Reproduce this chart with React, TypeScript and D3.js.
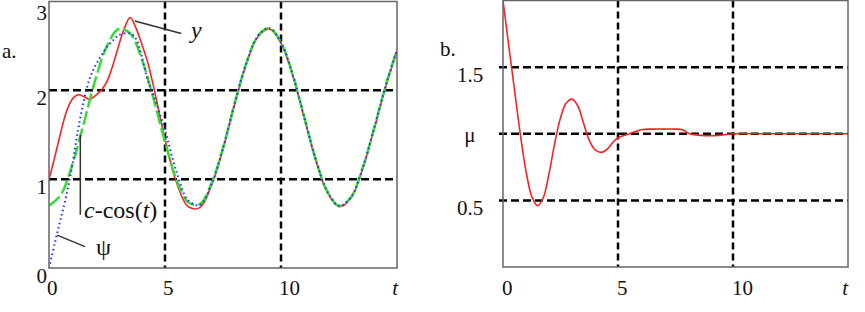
import React, { useRef, useEffect } from "react";
import * as d3 from "d3";

// panel a: time samples and curves
const tRed = [0, 0.25, 0.5, 0.75, 1, 1.25, 1.5, 1.75, 2, 2.25, 2.5, 2.75, 3, 3.25, 3.5, 3.75, 4, 4.25, 4.5, 5, 5.5, 6, 6.5, 7, 7.5, 8, 8.5, 9, 9.5, 10, 10.5, 11, 11.5, 12, 12.5, 13, 13.5, 14, 14.5, 15];
const yRed = [1.0, 1.25, 1.52, 1.76, 1.9, 1.95, 1.93, 1.9, 1.94, 2.0, 2.1, 2.28, 2.5, 2.7, 2.82, 2.7, 2.52, 2.32, 2.05, 1.45, 0.96, 0.69, 0.68, 0.93, 1.34, 1.84, 2.29, 2.6, 2.69, 2.53, 2.17, 1.69, 1.21, 0.85, 0.69, 0.78, 1.1, 1.55, 2.03, 2.44];

const tGreen = [0, 0.5, 1, 1.5, 2, 2.5, 3, 3.5, 4, 4.5, 5, 5.5, 6, 6.5, 7, 7.5, 8, 8.5, 9, 9.5, 10, 10.5, 11, 11.5, 12, 12.5, 13, 13.5, 14, 14.5, 15];
const yGreen = [0.7, 0.82, 1.16, 1.63, 2.12, 2.5, 2.69, 2.64, 2.35, 1.91, 1.42, 0.99, 0.74, 0.72, 0.95, 1.35, 1.85, 2.3, 2.61, 2.7, 2.54, 2.18, 1.7, 1.22, 0.86, 0.7, 0.79, 1.11, 1.56, 2.04, 2.46];

const tBlue = [0, 0.25, 0.5, 0.75, 1, 1.25, 1.5, 1.75, 2, 2.25, 2.5, 2.75, 3, 3.5, 3.75, 4, 4.25, 4.5, 5, 5.5, 6, 6.5, 7, 7.5, 8, 8.5, 9, 9.5, 10, 10.5, 11, 11.5, 12, 12.5, 13, 13.5, 14, 14.5, 15];
const yBlue = [0, 0.28, 0.55, 0.82, 1.15, 1.55, 1.88, 2.13, 2.28, 2.39, 2.49, 2.56, 2.62, 2.64, 2.58, 2.38, 2.12, 1.95, 1.55, 1.08, 0.76, 0.71, 0.94, 1.35, 1.85, 2.3, 2.61, 2.7, 2.54, 2.18, 1.7, 1.22, 0.86, 0.7, 0.79, 1.11, 1.56, 2.04, 2.46];

// panel b
const tMu = [0, 0.25, 0.5, 0.75, 1, 1.25, 1.5, 1.75, 2, 2.25, 2.5, 2.75, 3, 3.25, 3.5, 3.75, 4, 4.25, 4.5, 4.75, 5, 5.5, 6, 6.5, 7, 7.5, 7.8, 8.1, 8.5, 9, 9.5, 10, 11, 12, 13, 14, 15];
const muValues = [2.0, 1.66, 1.33, 1.0, 0.72, 0.53, 0.46, 0.52, 0.7, 0.93, 1.12, 1.23, 1.26, 1.21, 1.08, 0.95, 0.88, 0.86, 0.88, 0.93, 0.97, 1.0, 1.03, 1.035, 1.035, 1.035, 1.03, 1.0, 0.99, 0.985, 0.99, 1.0, 1.0, 1.0, 1.0, 1.0, 1.0];

const xTicks = [0, 5, 10];
const xGrid = [5, 10];
const yTicksA = [0, 1, 2, 3];
const yGridA = [1, 2];
const yGridB = [0.5, 1, 1.5];
const yLabelsB = [
  { v: 1.5, text: "1.5" },
  { v: 1, text: "μ" },
  { v: 0.5, text: "0.5" },
];

const FONT = "Liberation Serif, DejaVu Serif, serif";

const App: React.FC = () => {
  const svgRef = useRef<SVGSVGElement | null>(null);

  useEffect(() => {
    const svg = d3.select(svgRef.current);
    svg.selectAll("*").remove();

    const drawPanel = (opts: {
      id: string;
      x0: number;
      x1: number;
      yTop: number;
      yBot: number;
      yMax: number;
    }) => {
      const x = d3.scaleLinear().domain([0, 15]).range([opts.x0, opts.x1]);
      const y = d3.scaleLinear().domain([0, opts.yMax]).range([opts.yBot, opts.yTop]);
      svg
        .append("clipPath")
        .attr("id", opts.id)
        .append("rect")
        .attr("x", opts.x0)
        .attr("y", opts.yTop)
        .attr("width", opts.x1 - opts.x0)
        .attr("height", opts.yBot - opts.yTop);
      return { x, y };
    };

    const grid = (
      x: d3.ScaleLinear<number, number>,
      y: d3.ScaleLinear<number, number>,
      ys: number[],
      ext: number
    ) => {
      const g = svg.append("g");
      const [x0, x1] = x.range();
      const [yb, yt] = y.range();
      ys.forEach((v) => {
        g.append("line")
          .attr("x1", x0 - ext)
          .attr("x2", x1)
          .attr("y1", y(v))
          .attr("y2", y(v))
          .attr("stroke", "#000")
          .attr("stroke-width", 2.5)
          .attr("stroke-dasharray", "8,4");
      });
      xGrid.forEach((v) => {
        g.append("line")
          .attr("x1", x(v))
          .attr("x2", x(v))
          .attr("y1", yt)
          .attr("y2", yb)
          .attr("stroke", "#000")
          .attr("stroke-width", 2.5)
          .attr("stroke-dasharray", "7,4");
      });
    };

    const frame = (x: d3.ScaleLinear<number, number>, y: d3.ScaleLinear<number, number>) => {
      const [x0, x1] = x.range();
      const [yb, yt] = y.range();
      svg
        .append("rect")
        .attr("x", x0)
        .attr("y", yt)
        .attr("width", x1 - x0)
        .attr("height", yb - yt)
        .attr("fill", "none")
        .attr("stroke", "#666")
        .attr("stroke-width", 1.5);
    };

    const series = (
      x: d3.ScaleLinear<number, number>,
      y: d3.ScaleLinear<number, number>,
      ts: number[],
      vs: number[],
      clip: string,
      color: string,
      width: number,
      dash: string | null
    ) => {
      const line = d3
        .line<number>()
        .x((_, i) => x(ts[i]))
        .y((d) => y(d))
        .curve(d3.curveCatmullRom.alpha(0.5));
      svg
        .append("path")
        .attr("d", line(vs))
        .attr("clip-path", `url(#${clip})`)
        .attr("fill", "none")
        .attr("stroke", color)
        .attr("stroke-width", width)
        .attr("stroke-dasharray", dash);
    };

    const text = (
      tx: number,
      ty: number,
      s: string,
      anchor = "start",
      italic = false,
      size = 21
    ) =>
      svg
        .append("text")
        .attr("x", tx)
        .attr("y", ty)
        .attr("text-anchor", anchor)
        .style("font-family", FONT)
        .attr("font-size", size)
        .attr("font-style", italic ? "italic" : "normal")
        .attr("fill", "#111")
        .text(s);

    // ---- panel a
    const a = drawPanel({ id: "clipA", x0: 49, x1: 397, yTop: 1.5, yBot: 268, yMax: 3 });
    grid(a.x, a.y, yGridA, 0);
    series(a.x, a.y, tRed, yRed, "clipA", "#ff2020", 1.6, null);
    series(a.x, a.y, tGreen, yGreen, "clipA", "#33dd33", 2.5, "14,4");
    series(a.x, a.y, tBlue, yBlue, "clipA", "#2030ff", 2, "1.5,3");
    frame(a.x, a.y);

    // top label would touch the page edge, so keep it at least 20px down
    yTicksA.forEach((v) => text(47, Math.max(a.y(v) + 15, 20), String(v), "end"));
    xTicks.forEach((v) => text(a.x(v) - 2, 295, String(v)));
    text(398, 295, "t", "end", true);
    text(2, 58, "a.");

    // leader lines and labels
    const lead = (x1: number, y1: number, x2: number, y2: number) =>
      svg
        .append("line")
        .attr("x1", x1)
        .attr("y1", y1)
        .attr("x2", x2)
        .attr("y2", y2)
        .attr("stroke", "#333")
        .attr("stroke-width", 1.5);
    lead(a.x(3.7), a.y(2.78), a.x(5.7), a.y(2.64));
    text(191, 38, "y", "start", true, 24);
    lead(a.x(1.35), a.y(1.5), a.x(1.35), a.y(0.6));
    const lbl = svg
      .append("text")
      .attr("x", 84)
      .attr("y", 218)
      .style("font-family", FONT)
      .attr("font-size", 24)
      .attr("fill", "#111");
    lbl.append("tspan").attr("font-style", "italic").text("c");
    lbl.append("tspan").text("-cos(");
    lbl.append("tspan").attr("font-style", "italic").text("t");
    lbl.append("tspan").text(")");
    lead(a.x(0.35), a.y(0.37), a.x(1.55), a.y(0.24));
    text(96, 255, "ψ", "start", false, 24);

    // ---- panel b
    const b = drawPanel({ id: "clipB", x0: 503, x1: 848, yTop: 0.5, yBot: 267, yMax: 2 });
    grid(b.x, b.y, yGridB, 4);
    series(b.x, b.y, tMu, muValues, "clipB", "#ff2020", 1.6, null);
    frame(b.x, b.y);

    yLabelsB.forEach((d) =>
      text(470, b.y(d.v) + (d.text === "μ" ? 8 : 15), d.text, "middle")
    );
    xTicks.forEach((v) => text(b.x(v) - 1, 295, String(v)));
    text(848, 295, "t", "end", true);
    text(440, 56, "b.");

    return () => {
      svg.selectAll("*").remove();
    };
  }, []);

  return (
    <svg
      ref={svgRef}
      width={865}
      height={312}
      style={{ position: "absolute", left: 0, top: 0, background: "#fff" }}
    ></svg>
  );
};

export default App;
